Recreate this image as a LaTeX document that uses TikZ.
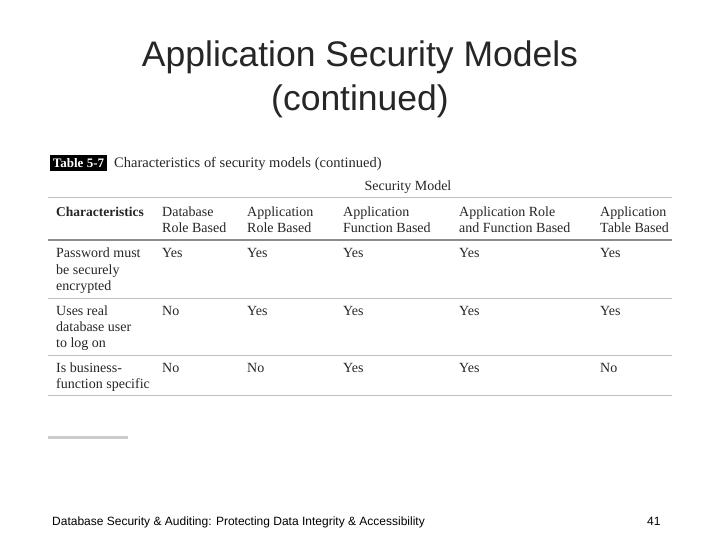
\documentclass[tikz,border=0pt]{standalone}
\usepackage{fontspec}
\setmainfont{Liberation Serif}
\newfontfamily\ttl{Liberation Sans}
\begin{document}
\begin{tikzpicture}[x=1pt,y=-1pt,
  cell/.style={anchor=base west,inner sep=0pt,font=\fontsize{14}{16}\selectfont,text=black!85},
  ttlstyle/.style={font=\ttl\fontsize{35.5}{40}\selectfont,text=black!85,inner sep=0pt},
  rule/.style={draw=black!45,line width=1.2pt},
  thin/.style={draw=black!25,line width=1pt}]
\useasboundingbox (0,0) rectangle (720,540);
\node[ttlstyle] (t1) at (360,57) {Application Security Models};
\node[ttlstyle] (t2) at (360,101) {(continued)};
\node[fill=black,text=white,anchor=center,inner sep=0pt,font=\bfseries\fontsize{13}{14}\selectfont,minimum height=16pt,minimum width=57pt] (lab) at (78.5,163) {Table 5-7};
\node[cell,font=\fontsize{14.5}{16}\selectfont] (cap) at (114,168) {Characteristics of security models (continued)};
\node[cell,anchor=base] (sm) at (408,191) {Security Model};
\coordinate (r0a) at (48,198); \coordinate (r0b) at (672,198);
\draw[thin] (r0a) -- (r0b);
\coordinate (r1a) at (48,240); \coordinate (r1b) at (672,240);
\draw[rule] (r1a) -- (r1b);
\coordinate (r2a) at (48,298); \coordinate (r2b) at (672,298);
\draw[thin] (r2a) -- (r2b);
\coordinate (r3a) at (48,355); \coordinate (r3b) at (672,355);
\draw[thin] (r3a) -- (r3b);
\coordinate (r4a) at (48,395); \coordinate (r4b) at (672,395);
\draw[thin] (r4a) -- (r4b);
\coordinate (g1) at (48,437); \coordinate (g2) at (128,437);
\draw[draw=black!20,line width=3pt] (g1) -- (g2);
% header
\node[cell,font=\bfseries\fontsize{13.5}{16}\selectfont] (h0) at (56,217) {Characteristics};
\node[cell] (h1a) at (162,217) {Database};
\node[cell] (h1b) at (162,233) {Role Based};
\node[cell] (h2a) at (247,217) {Application};
\node[cell] (h2b) at (247,233) {Role Based};
\node[cell] (h3a) at (343,217) {Application};
\node[cell] (h3b) at (343,233) {Function Based};
\node[cell] (h4a) at (459,217) {Application Role};
\node[cell] (h4b) at (459,233) {and Function Based};
\node[cell] (h5a) at (600,217) {Application};
\node[cell] (h5b) at (600,233) {Table Based};
% row 1
\node[cell] (a1) at (56,258) {Password must};
\node[cell] (a2) at (56,274) {be securely};
\node[cell] (a3) at (56,290) {encrypted};
\node[cell] (a4) at (162,258) {Yes};
\node[cell] (a5) at (247,258) {Yes};
\node[cell] (a6) at (343,258) {Yes};
\node[cell] (a7) at (459,258) {Yes};
\node[cell] (a8) at (600,258) {Yes};
% row 2
\node[cell] (b1) at (56,315) {Uses real};
\node[cell] (b2) at (56,331) {database user};
\node[cell] (b3) at (56,347) {to log on};
\node[cell] (b4) at (162,315) {No};
\node[cell] (b5) at (247,315) {Yes};
\node[cell] (b6) at (343,315) {Yes};
\node[cell] (b7) at (459,315) {Yes};
\node[cell] (b8) at (600,315) {Yes};
% row 3
\node[cell] (c1) at (56,372) {Is business-};
\node[cell] (c2) at (56,388) {function specific};
\node[cell] (c4) at (162,372) {No};
\node[cell] (c5) at (247,372) {No};
\node[cell] (c6) at (343,372) {Yes};
\node[cell] (c7) at (459,372) {Yes};
\node[cell] (c8) at (600,372) {No};
% footer
\node[anchor=base west,inner sep=0pt,font=\ttl\fontsize{12}{14}\selectfont] (f1) at (52,525) {Database Security \& Auditing: Protecting Data Integrity \& Accessibility};
\node[anchor=base west,inner sep=0pt,font=\ttl\fontsize{12}{14}\selectfont] (f2) at (647,525) {41};
\end{tikzpicture}
\end{document}
